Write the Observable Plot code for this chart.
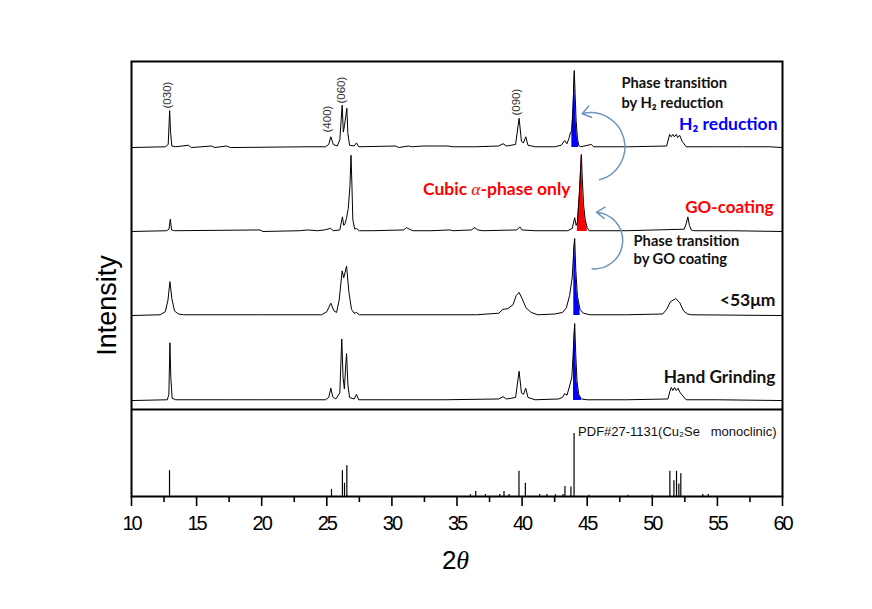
<!DOCTYPE html>
<html><head><meta charset="utf-8">
<script src="https://cdn.jsdelivr.net/npm/d3@7"></script>
<script src="https://cdn.jsdelivr.net/npm/@observablehq/plot@0.6"></script>
<style>body{margin:0;background:#fff}</style>
</head><body><div id="chart"></div>
<script>
// ---- Reference pattern PDF#27-1131 (2θ, relative intensity %) ----
const stickPos = [12.92,25.36,26.20,26.36,26.54,36.03,36.44,37.18,38.28,38.61,39.00,39.76,40.25,41.35,41.91,42.56,43.14,43.29,43.75,43.99,45.14,48.13,50.00,51.35,51.66,51.86,52.04,52.19,53.88,54.30];
const stickInt = [41,11,41,21,49,3,8,3,3,8,3,40,21,3,3,3,3,16,15,100,2,2,2,40,25,40,20,36,3,3];

// ---- Measured patterns (2θ, relative intensity % of strongest peak) ----
const h2Reduction = [[10,0],[12.6,1],[12.82,4],[12.93,48],[13.0,20],[13.1,2],[13.4,1],[14.36,3],[14.6,0],[16.15,2],[16.4,0],[17.3,2],[17.6,0],[23.55,1],[24.9,1],[25.15,4],[25.31,14],[25.5,4],[25.8,2],[26.0,10],[26.18,55],[26.27,20],[26.36,29],[26.45,40],[26.54,51],[26.62,18],[26.75,3],[27.1,2],[27.28,6],[27.45,1],[30.3,2],[30.5,0],[31.3,2],[31.5,1],[32.4,2],[33.5,2],[34.3,2],[34.7,1],[36.4,1],[38.2,2],[38.53,5],[38.8,2],[39.5,4],[39.77,38],[39.95,8],[40.1,6],[40.28,14],[40.45,3],[41,1],[42.5,1],[43.0,3],[43.27,9],[43.45,5],[43.6,12],[43.71,19],[43.82,22],[43.92,55],[44.01,100],[44.07,70],[44.15,35],[44.25,12],[44.35,3],[44.5,1],[45.32,4],[45.5,1],[48.2,1],[51.1,2],[51.33,17],[51.45,14],[51.58,17],[51.7,14],[51.84,17],[51.95,13],[52.1,16],[52.3,8],[52.6,1],[55,1],[57,1],[59,1],[60,0]];
const goCoating = [[10,0],[12.7,1],[12.88,3],[12.98,16],[13.08,2],[13.3,1],[19.86,2],[20.1,0],[22.9,1],[23.5,2],[24.3,1],[24.8,2],[25.29,4],[25.5,1],[26.0,2],[26.2,19],[26.3,8],[26.4,10],[26.51,17],[26.65,30],[26.78,60],[26.86,99],[26.93,60],[27.0,15],[27.15,3],[27.28,4],[27.5,1],[28.5,1],[30.9,2],[31.12,5],[31.35,3],[31.6,1],[33,1],[34.45,2],[34.7,1],[36.1,2],[36.36,5],[36.6,2],[37,1],[39.6,2],[39.82,6],[40.0,2],[41,1],[43.5,1],[43.85,4],[44.04,18],[44.15,8],[44.25,12],[44.4,50],[44.55,100],[44.62,70],[44.72,35],[44.85,15],[45.0,5],[45.15,1],[48,1],[52.45,3],[52.6,10],[52.73,19],[52.85,8],[53.0,2],[53.2,1],[56,1],[60,0]];
const under53um = [[10,0],[12.2,1],[12.6,5],[12.8,20],[12.95,44],[13.1,22],[13.3,6],[13.6,2],[14,1],[20,1],[24.6,1],[25.0,5],[25.31,16],[25.55,6],[25.75,4],[25.95,20],[26.18,58],[26.3,49],[26.52,64],[26.7,30],[26.9,8],[27.1,3],[27.28,4],[27.5,1],[30,1],[36.5,1],[38.2,3],[38.53,8],[38.9,9],[39.3,14],[39.55,26],[39.77,30],[40.0,22],[40.3,10],[40.7,4],[41.2,1],[42.5,2],[43.1,4],[43.4,10],[43.65,26],[43.85,50],[43.97,85],[44.04,100],[44.12,60],[44.25,25],[44.45,8],[44.7,3],[45.2,1],[48,1],[50.8,2],[51.1,8],[51.4,18],[51.8,22],[52.1,17],[52.4,6],[52.7,2],[53,1],[60,0]];
const handGrinding = [[10,0],[12.75,1],[12.87,8],[12.95,75],[13.02,30],[13.12,3],[13.4,1],[17.3,1],[20,1],[24.9,1],[25.15,4],[25.31,16],[25.45,5],[25.7,2],[26.0,10],[26.15,80],[26.25,30],[26.35,15],[26.45,45],[26.52,61],[26.62,20],[26.75,4],[27.1,2],[27.28,8],[27.45,1],[30,1],[34,1],[38.2,2],[38.53,5],[38.8,2],[39.5,4],[39.77,38],[39.95,10],[40.1,8],[40.28,16],[40.45,4],[41,1],[42.8,2],[43.1,4],[43.27,9],[43.45,7],[43.65,19],[43.82,30],[43.95,70],[44.04,100],[44.12,60],[44.22,25],[44.35,8],[44.55,2],[45,1],[48,1],[51.2,2],[51.35,12],[51.46,17],[51.58,13],[51.71,17],[51.84,13],[51.97,16],[52.15,10],[52.35,6],[52.6,1],[55,1],[60,0]];

const seriesNames = ["H2 reduction","GO-coating","<53μm","Hand Grinding"];
const seriesData = [h2Reduction, goCoating, under53um, handGrinding];
const highlightRange = [[43.8,44.4],[44.2,45.1],[43.92,44.6],[43.9,44.55]];
const highlightColor = ["#0000ff","#ff0000","#0000ff","#0000ff"];

const xTicks = [10,15,20,25,30,35,40,45,50,55,60];
const xMinorTicks = [12.5,17.5,22.5,27.5,32.5,37.5,42.5,47.5,52.5,57.5];

const peakLabels = ["(030)","(400)","(060)","(090)"];
const peakLabelX = [12.77,25.05,26.1,39.57];
const peakLabelTop = [4.46,4.184,4.517,4.379];

// ---- layout (panel units) ----
const offsets = [4.011, 3.046, 2.080, 1.103];
const peakScale = 0.885 / 100;
const stickScale = 0.724 / 100;

const rows = seriesData.flatMap((pts, k) => pts.map(([x, i]) => ({
  name: seriesNames[k], k, x, base: offsets[k], y: offsets[k] + i * peakScale
})));
const sticks = stickPos.map((x, i) => ({x, h: stickInt[i] * stickScale}));

const boldFont = "Lato, 'Open Sans', sans-serif";

const areas = seriesNames.map((name, k) => Plot.areaY(
  rows.filter(d => d.k === k && d.x >= highlightRange[k][0] && d.x <= highlightRange[k][1]),
  {x: "x", y1: "base", y2: "y", fill: highlightColor[k]}));

const plot = Plot.plot({
  width: 872, height: 609,
  marginLeft: 131, marginRight: 90, marginTop: 61, marginBottom: 113,
  style: {fontFamily: "'Liberation Sans', Arial, sans-serif", background: "#fff"},
  x: {domain: [10, 60]},
  y: {domain: [0, 5], axis: null},
  marks: [
    ...areas,
    Plot.line(rows, {x: "x", y: "y", z: "name", stroke: "black", strokeWidth: 1}),
    Plot.ruleX(sticks, {x: "x", y1: 0, y2: "h", stroke: "black", strokeWidth: 1.2}),
    Plot.ruleY([1], {stroke: "black", strokeWidth: 2}),
    Plot.frame({stroke: "black", strokeWidth: 2}),
    Plot.axisX({ticks: xTicks, tickSize: 10, tickPadding: 9, fontSize: 20, label: null, strokeWidth: 1.6}),
    Plot.axisX({ticks: xMinorTicks, tickSize: 6, tickFormat: () => "", label: null, strokeWidth: 1.6}),
    Plot.text(peakLabels, {x: (d, i) => peakLabelX[i], y: (d, i) => peakLabelTop[i], rotate: -90, textAnchor: "start", lineAnchor: "middle", fontSize: 11.5, fill: "#333"}),
    // annotations
    Plot.text(["Phase transition"], {x: 47.63, y: 4.690, textAnchor: "start", lineAnchor: "bottom", fontSize: 14.7, fontWeight: "bold", fontFamily: boldFont, fill: "#111"}),
    Plot.text(["by H₂ reduction"], {x: 47.63, y: 4.460, textAnchor: "start", lineAnchor: "bottom", fontSize: 14.7, fontWeight: "bold", fontFamily: boldFont, fill: "#111"}),
    Plot.text(["H₂ reduction"], {x: 59.62, y: 4.218, textAnchor: "end", lineAnchor: "bottom", fontSize: 17.5, fontWeight: "bold", fontFamily: boldFont, fill: "#0000ff"}),
    Plot.text(["Cubic α-phase only"], {x: 43.72, y: 3.460, textAnchor: "end", lineAnchor: "bottom", fontSize: 17.5, fontWeight: "bold", fontFamily: boldFont, fill: "#ff0000"}),
    Plot.text(["GO-coating"], {x: 59.31, y: 3.264, textAnchor: "end", lineAnchor: "bottom", fontSize: 17, fontWeight: "bold", fontFamily: boldFont, fill: "#ff0000"}),
    Plot.text(["Phase transition"], {x: 48.56, y: 2.874, textAnchor: "start", lineAnchor: "bottom", fontSize: 14.7, fontWeight: "bold", fontFamily: boldFont, fill: "#111"}),
    Plot.text(["by GO coating"], {x: 48.56, y: 2.667, textAnchor: "start", lineAnchor: "bottom", fontSize: 14.7, fontWeight: "bold", fontFamily: boldFont, fill: "#111"}),
    Plot.text(["<53μm"], {x: 59.46, y: 2.184, textAnchor: "end", lineAnchor: "bottom", fontSize: 17.5, fontWeight: "bold", fontFamily: boldFont, fill: "#111"}),
    Plot.text(["Hand Grinding"], {x: 59.46, y: 1.310, textAnchor: "end", lineAnchor: "bottom", fontSize: 17.3, fontWeight: "bold", fontFamily: boldFont, fill: "#111"}),
    Plot.text(["PDF#27-1131(Cu₂Se   monoclinic)"], {x: 44.30, y: 0.701, textAnchor: "start", lineAnchor: "bottom", fontSize: 13, fill: "#111"}),
    // curved arrows
    Plot.arrow([{x1: 45.94, y1: 3.640, x2: 44.61, y2: 4.399}], {x1: "x1", y1: "y1", x2: "x2", y2: "y2", bend: -90, stroke: "#6f95bd", strokeWidth: 1.5, headLength: 10, headAngle: 70}),
    Plot.arrow([{x1: 45.38, y1: 2.617, x2: 45.71, y2: 3.268}], {x1: "x1", y1: "y1", x2: "x2", y2: "y2", bend: -90, stroke: "#6f95bd", strokeWidth: 1.5, headLength: 10, headAngle: 70}),
    // axis titles
    Plot.text(["Intensity"], {x: 10, y: 2.195, dx: -24, rotate: -90, textAnchor: "middle", lineAnchor: "middle", fontSize: 27}),
    Plot.text(["2θ"], {frameAnchor: "bottom", dx: -1.5, dy: 72, textAnchor: "middle", lineAnchor: "bottom", fontSize: 26})
  ]
});

// styling tweaks: italic Greek letters and condensed tick labels
d3.select(plot).selectAll("text").each(function () {
  const t = this.textContent;
  if (t === "2θ" || t.includes("α")) {
    const sel = d3.select(this);
    const parts = t.split(/([αθ])/);
    this.textContent = "";
    for (const p of parts) {
      if (!p) continue;
      const ts = sel.append("tspan").text(p);
      if (p === "α" || p === "θ") ts.attr("font-style", "italic").attr("font-family", "'Liberation Serif', serif").attr("font-weight", "normal");
      else if (t === "2θ") ts.attr("font-style", "normal").attr("font-family", "'Liberation Sans', Arial, sans-serif");
    }
  }
});
d3.select(plot).selectAll("g[aria-label='x-axis tick label'] text").attr("letter-spacing", "-2px");

document.getElementById("chart").appendChild(plot);
</script>
</body></html>
